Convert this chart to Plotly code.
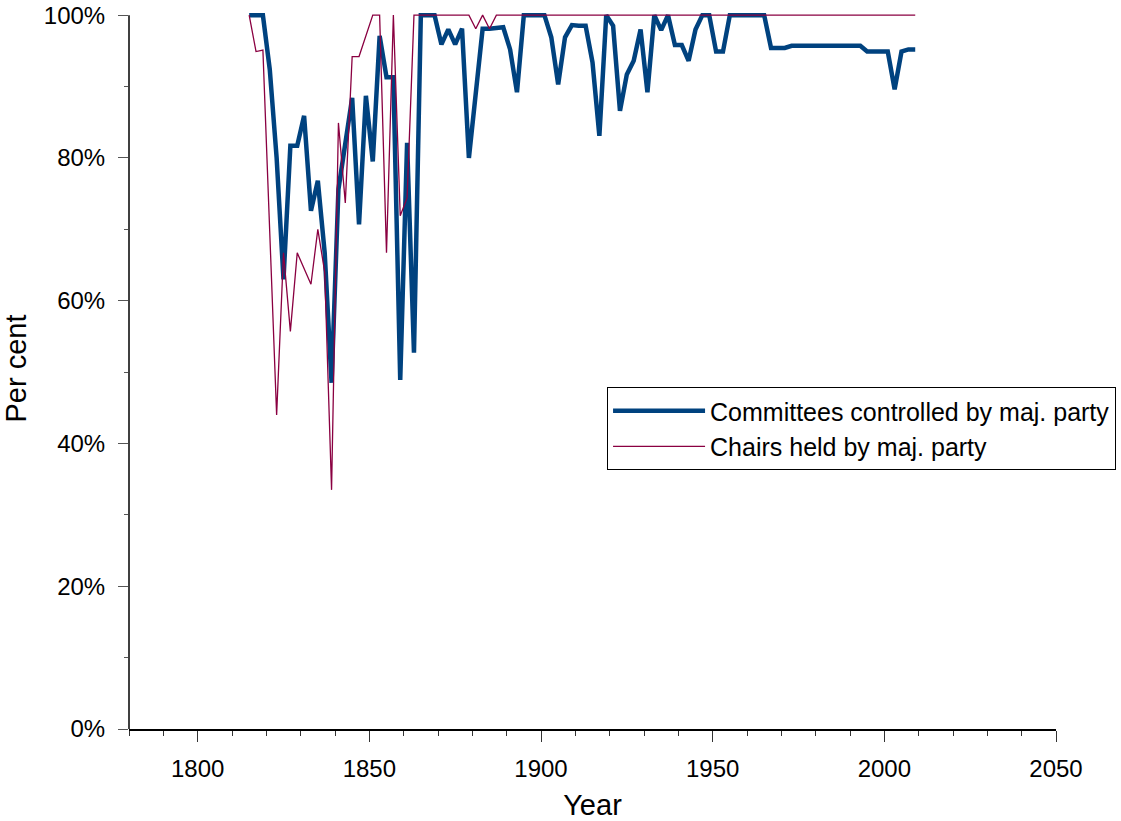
import plotly.graph_objects as go

# congress start years
years = [1815, 1817, 1819, 1821, 1823, 1825, 1827, 1829, 1831, 1833,
         1835, 1837, 1839, 1841, 1843, 1845, 1847, 1849, 1851, 1853,
         1855, 1857, 1859, 1861, 1863, 1865, 1867, 1869, 1871, 1873,
         1875, 1877, 1879, 1881, 1883, 1885, 1887, 1889, 1891, 1893,
         1895, 1897, 1899, 1901, 1903, 1905, 1907, 1909, 1911, 1913,
         1915, 1917, 1919, 1921, 1923, 1925, 1927, 1929, 1931, 1933,
         1935, 1937, 1939, 1941, 1943, 1945, 1947, 1949, 1951, 1953,
         1955, 1957, 1959, 1961, 1963, 1965, 1967, 1969, 1971, 1973,
         1975, 1977, 1979, 1981, 1983, 1985, 1987, 1989, 1991, 1993,
         1995, 1997, 1999, 2001, 2003, 2005, 2007, 2009]

committees = [100, 100, 100, 92.4, 80, 63, 81.7, 81.7, 85.9, 72.6,
              76.8, 66.7, 48.5, 75.6, 82, 88.4, 70.7, 88.7, 79.5, 97.1,
              91.3, 91.3, 48.9, 82.1, 52.7, 100, 100, 100, 95.9, 98,
              95.9, 98.1, 80, 89, 98.1, 98.1, 98.2, 98.3, 95.2, 89.2,
              100, 100, 100, 100, 96.9, 90.3, 96.9, 98.6, 98.5, 98.5,
              93.4, 83.1, 100, 98.5, 86.6, 91.7, 93.6, 98, 89.2, 100,
              97.9, 100, 95.8, 95.8, 93.6, 98, 100, 100, 94.9, 94.9,
              100, 100, 100, 100, 100, 100, 95.4, 95.4, 95.4, 95.7,
              95.7, 95.7, 95.7, 95.7, 95.7, 95.7, 95.7, 95.7, 95.7, 95.7,
              94.9, 94.9, 94.9, 94.9, 89.6, 94.9, 95.2, 95.2]

chairs = [100, 94.9, 95.1, 69.5, 44, 66.7, 55.7, 66.7, 64.5, 62.3,
          70, 64, 33.5, 84.9, 73.7, 94.2, 94.2, 97.2, 100, 100,
          66.7, 100, 71.9, 74.4, 100, 100, 100, 100, 100, 100,
          100, 100, 100, 98.1, 100, 98.1, 100, 100, 100, 100,
          100, 100, 100, 100, 100, 100, 100, 100, 100, 100,
          100, 100, 100, 100, 100, 100, 100, 100, 100, 100,
          100, 100, 100, 100, 100, 100, 100, 100, 100, 100,
          100, 100, 100, 100, 100, 100, 100, 100, 100, 100,
          100, 100, 100, 100, 100, 100, 100, 100, 100, 100,
          100, 100, 100, 100, 100, 100, 100, 100]

font_family = "Arial, Liberation Sans, sans-serif"

fig = go.Figure()

fig.add_trace(go.Scatter(
    x=years, y=committees, mode="lines",
    line=dict(color="#00427f", width=4.5),
    name="Committees controlled by maj. party"
))

# thin line on top
fig.add_trace(go.Scatter(
    x=years, y=chairs, mode="lines",
    line=dict(color="#8a0041", width=1.3),
    name="Chairs held by maj. party"
))

# y axis line only from 0 to 100 (range padded so the 100% line isn't clipped)
fig.add_shape(type="line", xref="paper", yref="y",
              x0=0, x1=0, y0=0, y1=100,
              line=dict(color="black", width=1.5))

fig.update_layout(
    width=1121, height=821,
    margin=dict(l=129, r=65, t=8, b=92, autoexpand=False),
    paper_bgcolor="white",
    plot_bgcolor="white",
    font=dict(family=font_family, size=24, color="black"),
    showlegend=True,
    legend=dict(
        x=0.5157, y=0.4743, xanchor="left", yanchor="top",
        bordercolor="black", borderwidth=1,
        bgcolor="white",
        itemwidth=92,
        font=dict(size=25),
    ),
    xaxis=dict(
        range=[1780, 2050],
        showgrid=False, zeroline=False,
        showline=True, linecolor="black", linewidth=1.5,
        ticks="outside", ticklen=11, tickcolor="#333", tickwidth=1,
        tick0=1800, dtick=50,
        minor=dict(ticks="outside", ticklen=5, dtick=10, tick0=1780,
                   tickcolor="#333", showgrid=False),
        ticklabelstandoff=6,
        title=dict(text="Year", standoff=16),
    ),
    yaxis=dict(
        range=[0, 101],
        showgrid=False, zeroline=False, showline=False,
        ticks="outside", ticklen=10, tickcolor="#555", tickwidth=1,
        tick0=0, dtick=20, ticksuffix="%",
        minor=dict(ticks="outside", ticklen=4, dtick=10, tick0=0,
                   tickcolor="#555", showgrid=False),
        ticklabelstandoff=8, ticklabeloverflow="allow",
        title=dict(text="Per cent", standoff=18),
    ),
)

# drop the default 8px body margin so the figure sits at the page corner
fig.write_html("out.html", config={"displayModeBar": False},
               post_script="document.body.style.margin='0';")
